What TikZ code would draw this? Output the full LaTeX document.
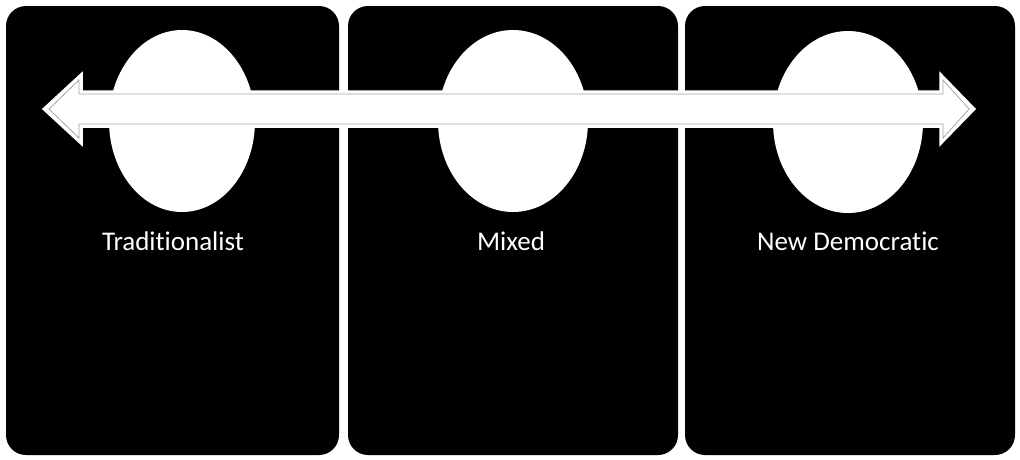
\documentclass[tikz,border=0pt]{standalone}
\usepackage{fontspec}
\setmainfont[Ligatures=NoCommon]{Carlito}
\begin{document}
\begin{tikzpicture}[x=1pt,y=-1pt,
  panel/.style={fill=black, rounded corners=20pt},
  bubble/.style={fill=white, draw=none},
  lbl/.style={text=white, font=\fontsize{27}{31}\selectfont, anchor=base},
  arrowout/.style={fill=white, draw=white, line width=1.5pt, line join=miter},
  arrowin/.style={draw=gray!70, line width=0.8pt, line join=miter}]
\useasboundingbox (0,0) rectangle (1020,459);
\fill[white] (0,0) rectangle (1020,459);
% panels
\path[panel] (6,6) rectangle (339,455);
\path[panel] (348,6) rectangle (678,455);
\path[panel] (685,6) rectangle (1015,455);
% ellipses
\fill[bubble] (182,121) ellipse [x radius=73, y radius=91];
\fill[bubble] (513,121) ellipse [x radius=75, y radius=91];
\fill[bubble] (848,122) ellipse [x radius=75, y radius=91];
% double arrow
\coordinate (tipL) at (43,109);
\coordinate (tipR) at (975,109);
\path[arrowout] (tipL) -- (82,73) -- (82,91) -- (940,91) -- (940,73) -- (tipR)
  -- (940,145) -- (940,127) -- (82,127) -- (82,145) -- cycle;
\draw[arrowin] (49,109) -- (79,80) -- (79,94) -- (943,94) -- (943,80) -- (969,109)
  -- (943,138) -- (943,124) -- (79,124) -- (79,138) -- cycle;
% labels
\node[lbl] (t1) at (173,250) {Traditionalist};
\node[lbl] (t2) at (511,250) {Mixed};
\node[lbl] (t3) at (848,250) {New Democratic};
\end{tikzpicture}
\end{document}
